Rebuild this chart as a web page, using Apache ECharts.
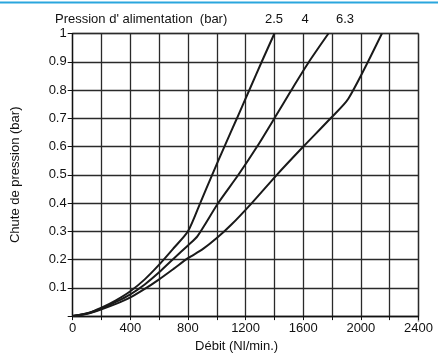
<!DOCTYPE html>
<html>
<head>
<meta charset="utf-8">
<script src="https://cdn.jsdelivr.net/npm/echarts@6/dist/echarts.min.js"></script>
<style>
html,body{margin:0;padding:0;background:#fff;}
#c{width:438px;height:358px;}
</style>
</head>
<body>
<div id="c"></div>
<script>
var seriesNames = ['2.5', '4', '6.3'];
var curve25 = [[0,0],[100,0.01],[200,0.03],[300,0.056],[400,0.088],[500,0.13],[600,0.182],[700,0.24],[800,0.3],[885,0.4],[968,0.5],[1053,0.6],[1140,0.7],[1226,0.8],[1312,0.9],[1400,1.0]];
var curve4 = [[0,0],[100,0.009],[200,0.027],[300,0.05],[400,0.077],[500,0.112],[600,0.155],[700,0.203],[800,0.25],[865,0.282],[1010,0.4],[1150,0.5],[1280,0.6],[1400,0.7],[1518,0.8],[1640,0.9],[1775,1.0]];
var curve63 = [[0,0],[100,0.008],[200,0.024],[300,0.043],[400,0.066],[500,0.096],[600,0.13],[700,0.167],[800,0.205],[900,0.236],[1000,0.276],[1100,0.323],[1243,0.4],[1417,0.5],[1601,0.6],[1790,0.7],[1914,0.77],[2146,1.0]];
var xTicks = [0,400,800,1200,1600,2000,2400];
var yTitle = 'Chute de pression (bar)';
var xTitle = 'Débit (Nl/min.)';
var legendTitle = "Pression d' alimentation  (bar)";

var font = 'Liberation Sans, Arial, Helvetica, sans-serif';
var chart = echarts.init(document.getElementById('c'), null, {renderer:'canvas'});
function mk(name, data){
  return {name:name, type:'line', data:data, showSymbol:false, smooth:0.25,
    lineStyle:{color:'#1a1a1a', width:2}, silent:true};
}
chart.setOption({
  animation:false,
  backgroundColor:'#fff',
  grid:{left:72.7, right:19.5, top:33.5, bottom:36.3},
  xAxis:{type:'value', min:0, max:2400, interval:200,
    axisLine:{show:true, lineStyle:{color:'#111', width:1.3}},
    axisTick:{show:true, length:4, lineStyle:{color:'#111'}},
    splitLine:{show:true, lineStyle:{color:'#2a2a2a', width:1.3}},
    axisLabel:{color:'#111', fontSize:13, fontFamily:font, margin:6,
      formatter:function(v){ return xTicks.indexOf(v) >= 0 ? String(v) : ''; }},
    name:xTitle, nameLocation:'middle', nameGap:22,
    nameTextStyle:{color:'#111', fontSize:13, fontFamily:font, padding:[0,18,0,0]}
  },
  yAxis:{type:'value', min:0, max:1, interval:0.1,
    axisLine:{show:true, lineStyle:{color:'#111', width:1.3}},
    axisTick:{show:true, length:5, lineStyle:{color:'#111'}},
    splitLine:{show:true, lineStyle:{color:'#2a2a2a', width:1.3}},
    axisLabel:{color:'#111', fontSize:13, fontFamily:font, margin:6,
      formatter:function(v){ return v === 0 ? '' : String(Math.round(v*10)/10); }},
    name:yTitle, nameLocation:'middle', nameGap:51, nameRotate:90,
    nameTextStyle:{color:'#111', fontSize:13, fontFamily:font}
  },
  graphic:[
    {type:'rect', left:0, top:1.5, shape:{width:438, height:2}, style:{fill:'#2aa6dd'}},
    {type:'line', shape:{x1:418.5, y1:33.5, x2:418.5, y2:321.7}, style:{stroke:'#888', lineWidth:1.5}},
    {type:'line', shape:{x1:72.7, y1:33.5, x2:418.5, y2:33.5}, style:{stroke:'#888', lineWidth:1.5}},
    {type:'text', x:55, y:19, style:{text:legendTitle, fill:'#111', font:'13px '+font, textVerticalAlign:'middle', textAlign:'left'}},
    {type:'text', x:274, y:19, style:{text:seriesNames[0], fill:'#111', font:'13px '+font, textVerticalAlign:'middle', textAlign:'center'}},
    {type:'text', x:305, y:19, style:{text:seriesNames[1], fill:'#111', font:'13px '+font, textVerticalAlign:'middle', textAlign:'center'}},
    {type:'text', x:345, y:19, style:{text:seriesNames[2], fill:'#111', font:'13px '+font, textVerticalAlign:'middle', textAlign:'center'}}
  ],
  series:[mk(seriesNames[0], curve25), mk(seriesNames[1], curve4), mk(seriesNames[2], curve63)]
});
</script>
</body>
</html>
